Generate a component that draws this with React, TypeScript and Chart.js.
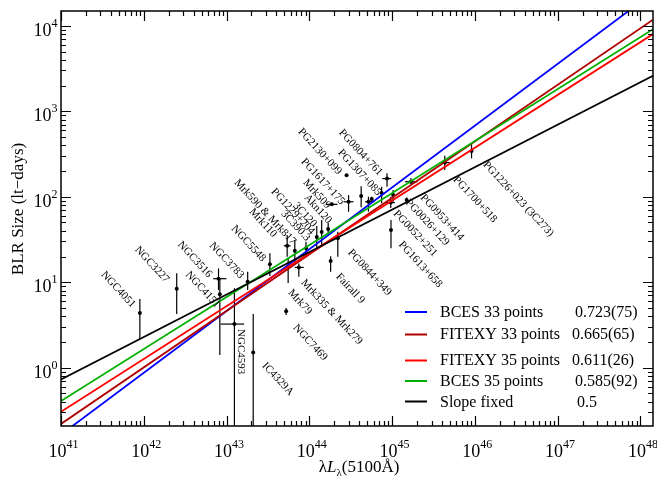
import { useEffect, useRef } from "react";
import { Chart, registerables } from "chart.js";
Chart.register(...registerables);

const X_MIN = 1e41;
const X_MAX = 1.42e48;
const Y_MIN = 0.208;
const Y_MAX = 1.49e4;

// data points: luminosity (erg/s), BLR size (lt-days) with error ranges
const lum = [8.97e41, 2.5e42, 8.0e42, 8.3e42, 1.245e43, 2.1e43, 1.8e43, 3.34e43, 5.25e43, 5.4e43, 6.68e43, 7.47e43, 5.55e43, 9.12e43, 1.23e44, 1.41e44, 1.69e44, 2.21e44, 1.81e44, 1.87e44, 2.98e44, 2.82e44, 4.23e44, 5.18e44, 5.67e44, 7.48e44, 8.69e44, 1.03e45, 9.64e44, 9.7e44, 1.69e45, 4.33e45, 9.12e45, 1.5e45];
const size = [4.36, 8.4, 11.0, 7.22, 3.24, 1.51, 10.1, 16.2, 4.57, 26.7, 23.4, 14.9, 15.2, 24.9, 33.8, 38.6, 41.9, 32.6, 17.7, 81.5, 87.4, 179, 101.9, 87.4, 94, 111, 163, 104.7, 85.5, 40.8, 150, 251, 342, 91.5];
const sizeLo = [2.15, 4.25, 8.1, 1.41, 0.05, 0.05, 8.1, 11.8, 4.13, 19.9, 17.4, 11.6, 9.8, 19.9, 24.4, 27.2, 34.7, 19.9, 13.3, 78, 66.8, 179, 75.2, 66.8, 88, 83.7, 131, 87.4, 73.8, 24.9, 137, 205, 281, 85];
const sizeHi = [6.36, 12.7, 14.5, 11.2, 8.5, 4.25, 13.3, 21.8, 4.99, 35.7, 31.2, 16.6, 19.2, 29.8, 45.4, 53.4, 49.3, 39, 20.2, 85, 104.7, 179, 133, 100, 100, 131, 189, 120, 100, 53.4, 166, 301, 413, 98];
const lumLo: (number | null)[] = [null, null, 6.9e42, null, 8.5e42, null, null, null, null, 4.92e43, null, 6.68e43, null, null, null, null, null, null, null, 1.57e44, 2.59e44, null, null, 4.72e44, null, null, 7.62e44, null, 8.22e44, null, 1.43e45, 3.77e45, null, null];
const lumHi: (number | null)[] = [null, null, 9.97e42, null, 1.63e43, null, null, null, null, 5.93e43, null, 8.57e43, null, null, null, null, null, null, null, 2.19e44, 3.42e44, null, null, 6.11e44, null, null, 9.77e44, null, 1.08e45, null, 2.03e45, 4.97e45, null, null];

// fit lines (values read at the two x-limits)
const fitNames = ["BCES 33 points", "FITEXY 33 points", "FITEXY 35 points", "BCES 35 points", "Slope fixed"];
const fitSlopes = ["0.723(75)", "0.665(65)", "0.611(26)", "0.585(92)", "0.5"];
const fitStartY = [0.165, 0.22, 0.305, 0.407, 0.73];
const fitEndY = [24400, 11800, 8000, 9140, 2600];
const fitColors = ["#0000ff", "#b00000", "#ff0000", "#00b000", "#000000"];

// object labels, anchored in data space (log10 L, log10 R)
const objNames = ["NGC4051", "NGC3227", "NGC3516", "NGC4151", "NGC3783", "NGC5548", "Mrk110", "Mrk590 & Mrk817", "PG1229+204", "3C390.3", "3C120", "Akn120", "Mrk509", "PG1617+175", "PG2130+099", "PG0804+761", "PG1307+085", "PG0953+414", "PG0026+129", "PG0052+251", "PG1613+658", "PG1700+518", "PG1226+023 (3C273)", "PG0844+349", "Fairall 9", "Mrk335 & Mrk279", "Mrk79", "NGC7469", "NGC4593", "IC4329A"];
const objLogL = [41.505, 41.913, 42.43, 42.526, 42.815, 43.079, 43.296, 43.115, 43.56, 43.68, 43.825, 43.957, 43.945, 43.921, 43.885, 44.377, 44.365, 45.363, 45.183, 45.038, 45.099, 45.76, 46.12, 44.486, 44.341, 43.921, 43.764, 43.825, 43.175, 43.452];
const objLogR = [1.108, 1.4, 1.458, 1.108, 1.447, 1.646, 1.844, 2.184, 2.078, 1.821, 1.915, 2.008, 2.184, 2.429, 2.78, 2.768, 2.535, 2.008, 1.95, 1.821, 1.458, 2.219, 2.394, 1.365, 1.084, 1.014, 0.897, 0.488, 0.453, 0.043];
const objAngle = [47, 47, 47, 47, 47, 47, 47, 47, 47, 47, 47, 47, 47, 47, 47, 47, 47, 47, 47, 47, 47, 47, 47, 47, 47, 47, 47, 47, 90, 47];

const xTickExps = [41, 42, 43, 44, 45, 46, 47, 48];
const yTickExps = [0, 1, 2, 3, 4];

const SERIF = '"Liberation Serif", "Times New Roman", serif';

const overlay = {
  id: "overlay",
  beforeDatasetsDraw(chart: any) {
    const { ctx, chartArea: a, scales } = chart;
    const x = scales.x, y = scales.y;
    ctx.save();
    ctx.beginPath();
    ctx.rect(a.left, a.top, a.right - a.left, a.bottom - a.top);
    ctx.clip();
    ctx.strokeStyle = "#000";
    ctx.lineWidth = 1.2;
    for (let i = 0; i < lum.length; i++) {
      const px = x.getPixelForValue(lum[i]);
      const py = y.getPixelForValue(size[i]);
      ctx.beginPath();
      ctx.moveTo(px, y.getPixelForValue(sizeLo[i]));
      ctx.lineTo(px, y.getPixelForValue(sizeHi[i]));
      ctx.stroke();
      const lo = lumLo[i], hi = lumHi[i];
      if (lo != null && hi != null) {
        ctx.beginPath();
        ctx.moveTo(x.getPixelForValue(lo), py);
        ctx.lineTo(x.getPixelForValue(hi), py);
        ctx.stroke();
      }
    }
    ctx.restore();
  },
  afterDraw(chart: any) {
    const { ctx, chartArea: a, scales } = chart;
    const x = scales.x, y = scales.y;
    ctx.save();
    // object labels
    ctx.fillStyle = "#000";
    ctx.font = `11px ${SERIF}`;
    ctx.textAlign = "left";
    ctx.textBaseline = "middle";
    for (let i = 0; i < objNames.length; i++) {
      const px = x.getPixelForValue(Math.pow(10, objLogL[i]));
      const py = y.getPixelForValue(Math.pow(10, objLogR[i]));
      ctx.save();
      ctx.translate(px, py);
      ctx.rotate((objAngle[i] * Math.PI) / 180);
      ctx.fillText(objNames[i], 0, 0);
      ctx.restore();
    }
    // frame
    ctx.strokeStyle = "#000";
    ctx.lineWidth = 1.5;
    ctx.strokeRect(a.left, a.top, a.right - a.left, a.bottom - a.top);
    ctx.lineWidth = 1.2;
    const MAJ = 10, MIN = 5;
    // x ticks
    for (let e = 40; e <= 48; e++) {
      for (let m = 1; m <= 9; m++) {
        const v = m * Math.pow(10, e);
        if (v < X_MIN * 0.999 || v > X_MAX) continue;
        const px = Math.round(x.getPixelForValue(v)) + 0.5;
        const len = m === 1 ? MAJ : MIN;
        ctx.beginPath();
        ctx.moveTo(px, a.bottom);
        ctx.lineTo(px, a.bottom - len);
        ctx.moveTo(px, a.top);
        ctx.lineTo(px, a.top + len);
        ctx.stroke();
      }
    }
    // y ticks
    for (let e = -1; e <= 4; e++) {
      for (let m = 1; m <= 9; m++) {
        const v = m * Math.pow(10, e);
        if (v < Y_MIN || v > Y_MAX) continue;
        const py = Math.round(y.getPixelForValue(v)) + 0.5;
        const len = m === 1 ? MAJ : MIN;
        ctx.beginPath();
        ctx.moveTo(a.left, py);
        ctx.lineTo(a.left + len, py);
        ctx.moveTo(a.right, py);
        ctx.lineTo(a.right - len, py);
        ctx.stroke();
      }
    }
    // x tick labels
    ctx.textBaseline = "alphabetic";
    for (const e of xTickExps) {
      const px = x.getPixelForValue(Math.pow(10, e));
      ctx.font = `18px ${SERIF}`;
      const w = ctx.measureText("10").width;
      ctx.textAlign = "left";
      const left = px - 3.5 - w / 2;
      ctx.fillText("10", left, 457);
      ctx.font = `12px ${SERIF}`;
      ctx.fillText(String(e), left + w, 448);
    }
    // y tick labels
    for (const e of yTickExps) {
      const py = y.getPixelForValue(Math.pow(10, e));
      ctx.font = `18px ${SERIF}`;
      ctx.textAlign = "right";
      ctx.fillText("10", 51.5, py + 10);
      ctx.font = `12px ${SERIF}`;
      ctx.textAlign = "left";
      ctx.fillText(String(e), 51.5, py + 1);
    }
    // y title
    ctx.save();
    ctx.translate(19, 209);
    ctx.rotate(-Math.PI / 2);
    ctx.font = `17px ${SERIF}`;
    ctx.textAlign = "center";
    ctx.textBaseline = "middle";
    ctx.fillText("BLR Size (lt\u2212days)", 0, 0);
    ctx.restore();
    // x title: λL_λ(5100Å)
    ctx.textAlign = "left";
    ctx.textBaseline = "alphabetic";
    const parts: [string, string, number][] = [
      ["\u03bb", `17px ${SERIF}`, 0],
      ["L", `italic 17px ${SERIF}`, 0],
      ["\u03bb", `11px ${SERIF}`, 4],
      ["(5100\u00c5)", `17px ${SERIF}`, 0],
    ];
    let total = 0;
    for (const p of parts) {
      ctx.font = p[1];
      total += ctx.measureText(p[0]).width;
    }
    let cx = 359 - total / 2;
    for (const p of parts) {
      ctx.font = p[1];
      ctx.fillText(p[0], cx, 472 + p[2]);
      cx += ctx.measureText(p[0]).width;
    }
    // legend
    const rowsBase = [316.7, 339.3, 365, 386, 406.7];
    const rowsLine = [312, 334.5, 360.5, 381, 401.5];
    const valX = [575, 572, 572, 575, 577];
    ctx.font = `16px ${SERIF}`;
    for (let i = 0; i < fitNames.length; i++) {
      ctx.strokeStyle = fitColors[i];
      ctx.lineWidth = 2;
      ctx.beginPath();
      ctx.moveTo(405, rowsLine[i]);
      ctx.lineTo(427, rowsLine[i]);
      ctx.stroke();
      ctx.fillStyle = "#000";
      ctx.fillText(fitNames[i], 440, rowsBase[i]);
      ctx.fillText(fitSlopes[i], valX[i], rowsBase[i]);
    }
    ctx.restore();
  },
};

export default function App() {
  const ref = useRef<HTMLCanvasElement>(null);
  useEffect(() => {
    if (!ref.current) return;
    const lineSets = fitNames.map((n, i) => ({
      type: "line" as const,
      label: n,
      data: [
        { x: X_MIN, y: fitStartY[i] },
        { x: X_MAX, y: fitEndY[i] },
      ],
      borderColor: fitColors[i],
      backgroundColor: fitColors[i],
      borderWidth: 1.8,
      pointRadius: 0,
      showLine: true,
      fill: false,
    }));
    const chart = new Chart(ref.current, {
      type: "scatter",
      data: {
        datasets: [
          ...lineSets.reverse(),
          {
            label: "AGN",
            data: lum.map((v, i) => ({ x: v, y: size[i] })),
            backgroundColor: "#000",
            borderColor: "#000",
            pointRadius: 2,
            pointBorderWidth: 0,
          },
        ] as any,
      },
      options: {
        responsive: false,
        animation: false,
        layout: { padding: { left: 61, top: 11, right: 1, bottom: 54 } },
        plugins: { legend: { display: false }, tooltip: { enabled: false } },
        scales: {
          x: { type: "logarithmic", min: X_MIN, max: X_MAX, display: false },
          y: { type: "logarithmic", min: Y_MIN, max: Y_MAX, display: false },
        },
      },
      plugins: [overlay],
    });
    return () => chart.destroy();
  }, []);
  return (
    <div style={{ position: "absolute", left: 0, top: 0, width: 657, height: 480, background: "#fff" }}>
      <canvas ref={ref} width={657} height={480} style={{ display: "block" }} />
    </div>
  );
}
